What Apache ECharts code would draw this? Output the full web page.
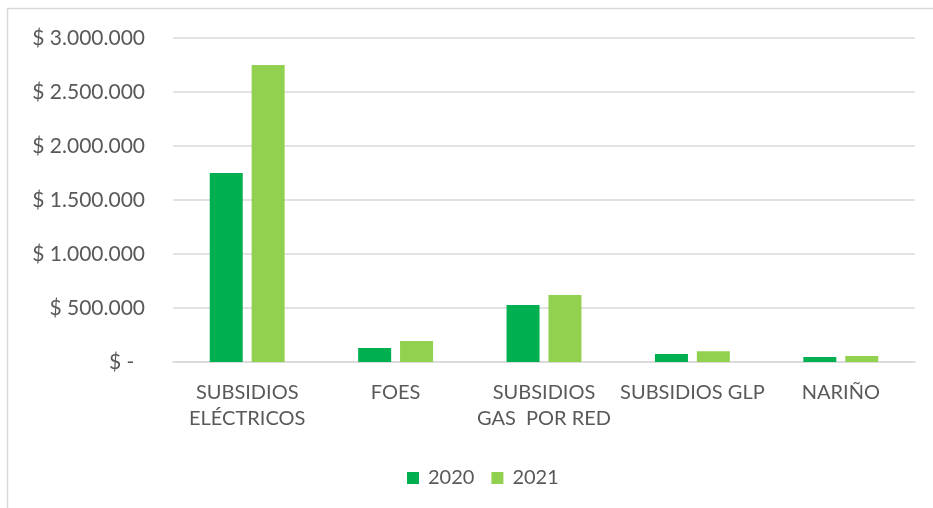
<!DOCTYPE html>
<html lang="es">
<head>
    <meta charset="UTF-8">
    <title>Subsidios</title>
    <script src="https://cdn.jsdelivr.net/npm/echarts@6/dist/echarts.min.js"></script>
    <style>
        html, body { margin: 0; padding: 0; background: #fff; }
    </style>
</head>
<body>
<div id="main" style="width:933px;height:508px;"></div>
<script type="text/javascript">
    var categorias = ['SUBSIDIOS\nELÉCTRICOS', 'FOES', 'SUBSIDIOS\nGAS  POR RED', 'SUBSIDIOS GLP', 'NARIÑO'];
    var valores2020 = [1750000, 130000, 528000, 74000, 46000];
    var valores2021 = [2750000, 195000, 620000, 99000, 56000];

    // formato contable: "$ 1.500.000", cero como "$ -"
    function pesos(v) {
        if (v === 0) return '$ -  ';
        return '$ ' + String(v).replace(/\B(?=(\d{3})+(?!\d))/g, '.');
    }

    var myChart = echarts.init(document.getElementById('main'));
    var option = {
        animation: false,
        textStyle: {fontFamily: 'Lato', color: '#595959'},
        graphic: [{
            type: 'rect',
            shape: {x: 7.5, y: 8.5, width: 940, height: 520},
            style: {fill: 'none', stroke: '#d9d9d9', lineWidth: 1.5}
        }],
        legend: {
            bottom: 15,
            left: 402,
            itemWidth: 12,
            itemHeight: 12,
            itemGap: 17,
            icon: 'rect',
            textStyle: {fontSize: 20, color: '#595959', fontFamily: 'Lato', padding: [0, 0, 0, 4]},
            data: ['2020', '2021']
        },
        grid: {left: 173, right: 18, top: 38, bottom: 146},
        xAxis: {
            type: 'category',
            data: categorias,
            axisTick: {show: false},
            axisLine: {lineStyle: {color: '#d9d9d9', width: 1.5}},
            axisLabel: {
                fontSize: 20, color: '#595959', margin: 18, lineHeight: 26,
                interval: 0, fontFamily: 'Lato'
            }
        },
        yAxis: {
            type: 'value',
            min: 0,
            max: 3000000,
            interval: 500000,
            axisLine: {show: false},
            axisTick: {show: false},
            splitLine: {lineStyle: {color: '#d9d9d9', width: 1.5}},
            axisLabel: {
                fontSize: 21, color: '#595959', margin: 28,
                fontFamily: 'Lato',
                formatter: pesos
            }
        },
        series: [
            {name: '2020', type: 'bar', data: valores2020, barWidth: 33, barGap: '27%',
                itemStyle: {color: '#00B050'}},
            {name: '2021', type: 'bar', data: valores2021, barWidth: 33,
                itemStyle: {color: '#92D050'}}
        ]
    };
    myChart.setOption(option);
</script>
</body>
</html>
